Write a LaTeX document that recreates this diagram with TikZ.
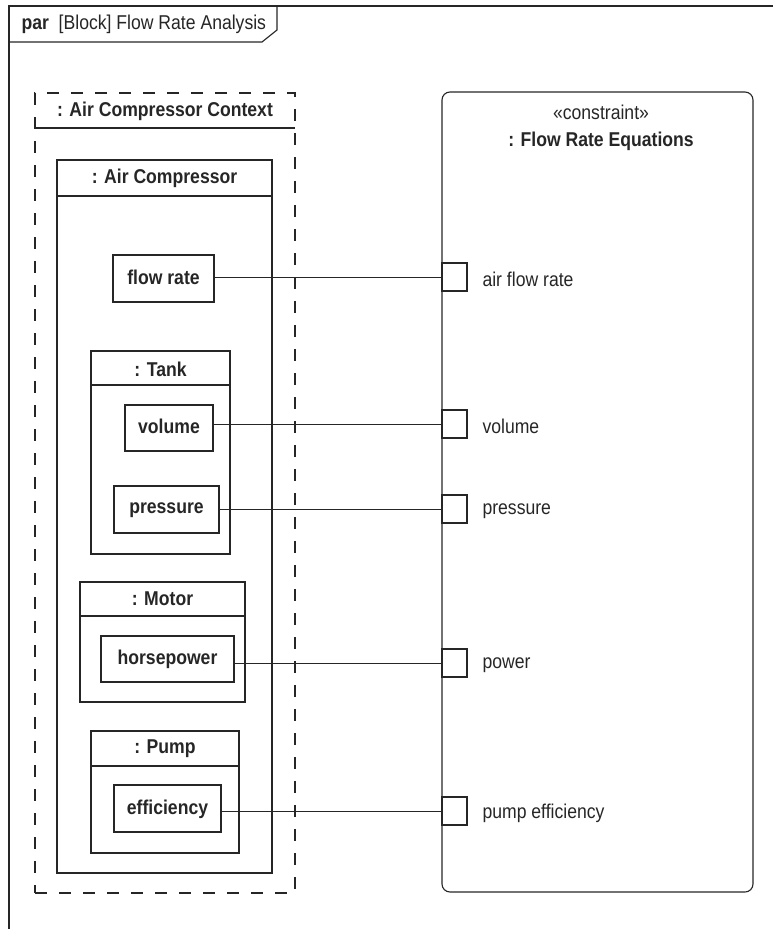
\documentclass[tikz,border=0pt]{standalone}
\usepackage{fontspec}
\setmainfont{Liberation Sans}[FakeStretch=0.88]
\begin{document}
\begin{tikzpicture}[x=1pt,y=-1pt,
  line width=1.1pt, draw=black!85,
  every node/.style={font=\fontsize{20}{23}\selectfont, text=black!85},
  blk/.style={draw, rectangle, inner sep=0pt},
  prop/.style={blk, font=\fontsize{20}{23}\selectfont\bfseries, text depth=3pt},
  port/.style={draw, rectangle, inner sep=0pt, minimum width=25pt, minimum height=28pt, fill=white},
  ttl/.style={font=\fontsize{20}{23}\selectfont\bfseries, inner sep=0pt},
  plabel/.style={anchor=west, inner sep=0pt},
  conn/.style={line width=0.9pt}
]
\useasboundingbox (0,0) rectangle (773,929);
% frame
\draw (9,929) -- (9,6) -- (773,6);
\draw (9,42) -- (262,42) -- (277,30) -- (277,6);
\node[anchor=west, inner sep=0pt] (ftitle) at (21,24) {\textbf{par}\ \ [Block] Flow Rate Analysis};

% context (dashed)
\node[blk, dash pattern=on 12pt off 12pt, minimum width=260pt, minimum height=800pt] (ctx) at (165,493) {};
\draw (35,128) -- (295,128);
\node[ttl] (ctxt) at (165,111) {: Air Compressor Context};

% air compressor
\node[blk, minimum width=215pt, minimum height=713pt] (ac) at (164.5,516.5) {};
\draw (ac.west |- 0,196) -- (ac.east |- 0,196);
\node[ttl] (act) at (164.5,178) {: Air Compressor};
\node[prop, minimum width=101pt, minimum height=47pt] (flow) at (163.5,278.5) {flow rate};

% tank
\node[blk, minimum width=139pt, minimum height=203pt] (tank) at (160.5,452.5) {};
\draw (tank.west |- 0,385) -- (tank.east |- 0,385);
\node[ttl] (tankt) at (160.5,369) {: Tank};
\node[prop, minimum width=88pt, minimum height=46pt] (vol) at (169,428) {volume};
\node[prop, minimum width=105pt, minimum height=47pt] (pres) at (166.5,509.5) {pressure};

% motor
\node[blk, minimum width=165pt, minimum height=120pt] (motor) at (162.5,642) {};
\draw (motor.west |- 0,616) -- (motor.east |- 0,616);
\node[ttl] (motort) at (162.5,599) {: Motor};
\node[prop, minimum width=133pt, minimum height=46pt] (hp) at (167.5,659) {horsepower};

% pump
\node[blk, minimum width=148pt, minimum height=122pt] (pump) at (165,792) {};
\draw (pump.west |- 0,766) -- (pump.east |- 0,766);
\node[ttl] (pumpt) at (165,749) {: Pump};
\node[prop, minimum width=107pt, minimum height=47pt] (eff) at (167.5,808.5) {efficiency};

% constraint block
\node[blk, rounded corners=8pt, minimum width=311pt, minimum height=800pt] (cb) at (597.5,492) {};
\node[inner sep=0pt] (ster) at (601,112) {«constraint»};
\node[ttl] (cbt) at (601,141) {: Flow Rate Equations};

% ports
\node[port] (p1) at (454.5,277) {};
\node[port] (p2) at (454.5,424) {};
\node[port] (p3) at (454.5,509) {};
\node[port] (p4) at (454.5,663) {};
\node[port] (p5) at (454.5,811) {};
\node[plabel] (l1) at (482,279) {air flow rate};
\node[plabel] (l2) at (482,426) {volume};
\node[plabel] (l3) at (482,511) {pressure};
\node[plabel] (l4) at (482,665) {power};
\node[plabel] (l5) at (482,813) {pump efficiency};

% connectors
\draw[conn] (flow.east |- p1.west) -- (p1.west);
\draw[conn] (vol.east |- p2.west) -- (p2.west);
\draw[conn] (pres.east |- p3.west) -- (p3.west);
\draw[conn] (hp.east |- p4.west) -- (p4.west);
\draw[conn] (eff.east |- p5.west) -- (p5.west);
\end{tikzpicture}
\end{document}
